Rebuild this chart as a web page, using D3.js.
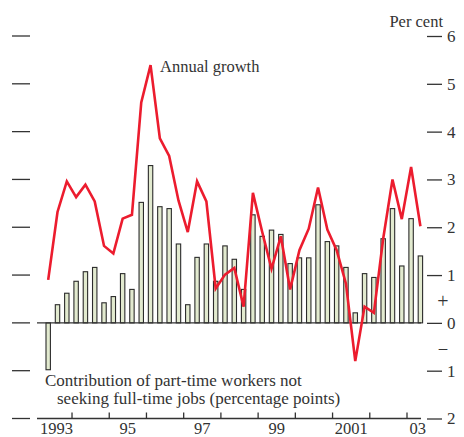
<!DOCTYPE html>
<html>
<head>
<meta charset="utf-8">
<script src="https://cdn.jsdelivr.net/npm/d3@7/dist/d3.min.js"></script>
<style>
  html, body { margin: 0; padding: 0; background: #fff; }
  svg { display: block; }
  text { font-family: "Liberation Serif", "Times New Roman", serif; fill: #333; }
</style>
</head>
<body>
<svg id="chart" width="464" height="437"></svg>
<script>
// Quarterly observations, 1993 Q2 – 2003 Q2
const quarters = [
  "1993 Q2","1993 Q3","1993 Q4",
  "1994 Q1","1994 Q2","1994 Q3","1994 Q4",
  "1995 Q1","1995 Q2","1995 Q3","1995 Q4",
  "1996 Q1","1996 Q2","1996 Q3","1996 Q4",
  "1997 Q1","1997 Q2","1997 Q3","1997 Q4",
  "1998 Q1","1998 Q2","1998 Q3","1998 Q4",
  "1999 Q1","1999 Q2","1999 Q3","1999 Q4",
  "2000 Q1","2000 Q2","2000 Q3","2000 Q4",
  "2001 Q1","2001 Q2","2001 Q3","2001 Q4",
  "2002 Q1","2002 Q2","2002 Q3","2002 Q4",
  "2003 Q1","2003 Q2"
];

// Contribution of part-time workers not seeking full-time jobs (percentage points)
const contribution = [
  -0.98, 0.38, 0.62,
  0.87, 1.07, 1.16, 0.42,
  0.55, 1.03, 0.70, 2.52,
  3.29, 2.43, 2.39, 1.65,
  0.38, 1.37, 1.65, 0.87,
  1.61, 1.33, 0.70, 2.26,
  1.81, 1.94, 1.85, 1.24,
  1.36, 1.36, 2.47, 1.70,
  1.61, 1.16, 0.21, 1.03,
  0.95, 1.76, 2.39, 1.19,
  2.18, 1.40
];

// Annual employment growth (per cent)
const annualGrowth = [
  0.90, 2.32, 2.96,
  2.63, 2.89, 2.54, 1.61,
  1.45, 2.18, 2.26, 4.61,
  5.39, 3.86, 3.49, 2.56,
  1.90, 2.96, 2.54, 0.72,
  1.01, 1.15, 0.34, 2.72,
  1.90, 1.13, 1.81, 0.70,
  1.52, 1.97, 2.83, 1.95,
  1.52, 0.82, -0.80, 0.34,
  0.21, 1.76, 3.00, 2.17,
  3.26, 2.02
];

const yTicks = [6, 5, 4, 3, 2, 1, 0, -1, -2];
const yTickLabels = ["6", "5", "4", "3", "2", "1", "0", "1", "2"];
const yearTicks = [1994, 1995, 1996, 1997, 1998, 1999, 2000, 2001, 2002, 2003];
const yearLabels = [
  { year: 1993, label: "1993" },
  { year: 1995, label: "95" },
  { year: 1997, label: "97" },
  { year: 1999, label: "99" },
  { year: 2001, label: "2001" },
  { year: 2003, label: "03" }
];

// quarter string -> decimal year placed near the middle of the quarter
function quarterTime(q) {
  const [yr, qq] = q.split(" Q");
  return +yr + (+qq - 1) / 4 + 0.11;
}

const svg = d3.select("#chart");
const ink = "#333";

const x = d3.scaleLinear().domain([1993, 2003]).range([34.8, 407]);
const y = d3.scaleLinear().domain([-2, 6]).range([418.5, 36]);

const axisStart = 37, axisEnd = 421;

// Left tick marks (no labels)
svg.append("g").selectAll("line").data(yTicks).join("line")
  .attr("x1", 12).attr("x2", 30)
  .attr("y1", d => y(d)).attr("y2", d => y(d))
  .attr("stroke", ink).attr("stroke-width", 1.3);

// Right axis with labels
const right = svg.append("g").attr("transform", "translate(427,0)")
  .call(d3.axisRight(y).tickValues(yTicks).tickSize(15).tickPadding(7)
    .tickFormat((d, i) => yTickLabels[i]));
right.select(".domain").remove();
right.selectAll(".tick line").attr("stroke", ink).attr("stroke-width", 1.3);
right.selectAll(".tick text")
  .attr("x", 20)
  .style("font-family", "'Liberation Serif', serif")
  .style("font-size", "17px").attr("fill", ink);

// Sign markers around zero
svg.append("text").attr("x", 443).attr("y", y(0.45)).attr("dy", "0.35em")
  .attr("text-anchor", "middle").style("font-size", "20px").text("+");
svg.append("text").attr("x", 443).attr("y", y(-0.5)).attr("dy", "0.35em")
  .attr("text-anchor", "middle").style("font-size", "17px").text("–");

svg.append("text").attr("x", 443).attr("y", 27)
  .attr("text-anchor", "end").style("font-size", "16.5px").text("Per cent");

// Bottom time axis: ticks point upward at year boundaries
const bottom = svg.append("g").attr("transform", `translate(0,${y(-2)})`);
bottom.append("line").attr("x1", axisStart).attr("x2", axisEnd)
  .attr("stroke", ink).attr("stroke-width", 1.3);
bottom.selectAll("line.tk").data(yearTicks).join("line").attr("class", "tk")
  .attr("x1", d => x(d)).attr("x2", d => x(d))
  .attr("y1", 0).attr("y2", -6)
  .attr("stroke", ink).attr("stroke-width", 1.3);
bottom.selectAll("text").data(yearLabels).join("text")
  .attr("x", (d, i) => i === 0 ? axisStart + 3 : (i === yearLabels.length - 1 ? axisEnd + 5 : x(d.year + 0.5)))
  .attr("text-anchor", (d, i) => i === 0 ? "start" : (i === yearLabels.length - 1 ? "end" : "middle"))
  .attr("y", 15)
  .style("font-size", "16.5px")
  .text(d => d.label);

// Bars
const barW = 4.4;
svg.append("g").selectAll("rect").data(quarters).join("rect")
  .attr("x", (q) => x(quarterTime(q)) - barW / 2)
  .attr("y", (q, i) => y(Math.max(0, contribution[i])))
  .attr("width", barW)
  .attr("height", (q, i) => Math.abs(y(contribution[i]) - y(0)))
  .attr("fill", "#e2eacf")
  .attr("stroke", "#2b2b2b").attr("stroke-width", 1.1);

// Zero line
svg.append("line").attr("x1", axisStart).attr("x2", axisEnd)
  .attr("y1", y(0)).attr("y2", y(0))
  .attr("stroke", ink).attr("stroke-width", 1.3);

// Growth line
const line = d3.line()
  .x(d => x(quarterTime(d.q)))
  .y(d => y(d.v));
svg.append("path")
  .datum(quarters.map((q, i) => ({ q, v: annualGrowth[i] })))
  .attr("d", line)
  .attr("fill", "none")
  .attr("stroke", "#ec1c2e")
  .attr("stroke-width", 2.6)
  .attr("stroke-linejoin", "miter");

// Annotations
svg.append("text").attr("x", 160).attr("y", 72)
  .style("font-size", "16.5px").text("Annual growth");
svg.append("text").attr("x", 45).attr("y", 386)
  .style("font-size", "17px").text("Contribution of part-time workers not");
svg.append("text").attr("x", 57).attr("y", 404)
  .style("font-size", "17px").text("seeking full-time jobs (percentage points)");
</script>
</body>
</html>
